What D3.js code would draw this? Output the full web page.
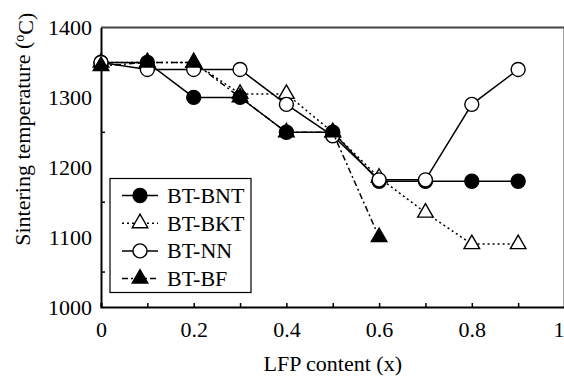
<!DOCTYPE html>
<html>
<head>
<meta charset="utf-8">
<script src="https://cdn.jsdelivr.net/npm/d3@7"></script>
<style>
  body { margin: 0; }
  svg text, svg tspan { font-family: "Liberation Serif", "Times New Roman", Times, serif !important; }
</style>
</head>
<body>
<script>
var xValues = [0, 0.1, 0.2, 0.3, 0.4, 0.5, 0.6, 0.7, 0.8, 0.9];
var bnt = [1350, 1350, 1300, 1300, 1250, 1250, 1180, 1180, 1180, 1180];
var bkt = [1350, 1350, 1350, 1305, 1305, 1250, 1185, 1135, 1090, 1090];
var nn  = [1350, 1340, 1340, 1340, 1290, 1245, 1182, 1182, 1290, 1340];
var bf  = [1345, 1350, 1350, 1300, 1250, 1250, 1100];
var yTicks = [1000, 1100, 1200, 1300, 1400];

var FONT = "Times New Roman";

var margin = {top: 27.5, right: 0, bottom: 71, left: 101},
	width = 564 - margin.left - margin.right,
	height = 378 - margin.top - margin.bottom;

var x = d3.scaleLinear().domain([0, 1]).range([0, 463.5]);
var y = d3.scaleLinear().domain([1000, 1400]).range([height, 0]);

var svg = d3.select("body").append("svg")
	.attr("width", 564)
	.attr("height", 378)
	.append("g")
	.attr("transform", "translate(" + margin.left + "," + margin.top + ")");

// frame top + right
svg.append("line").attr("x1", 0).attr("x2", x(1)).attr("y1", 0).attr("y2", 0)
	.attr("stroke", "#444").attr("stroke-width", 2);
svg.append("line").attr("x1", x(1)).attr("x2", x(1)).attr("y1", 0).attr("y2", height)
	.attr("stroke", "#444").attr("stroke-width", 2);

// AXIS
var xAxis = svg.append("g")
	.attr("transform", "translate(0," + height + ")")
	.call(d3.axisBottom(x).tickValues(d3.range(0, 1.01, 0.1)).tickSize(-4).tickPadding(10)
		.tickFormat(function(d) { var r = Math.round(d * 10); return r % 2 == 0 ? d3.format("")(r / 10) : ""; }))
	.attr("font-family", FONT)
	.attr("font-size", 22);
xAxis.select(".domain").attr("stroke-width", 2);
xAxis.selectAll(".tick line").attr("stroke-width", 1.5);
xAxis.selectAll("text").attr("dy", "0.9em");
// keep the last "1" inside the picture
xAxis.selectAll(".tick").filter(function(d) { return d > 0.99; }).select("text").attr("x", -6);

var yAxis = svg.append("g")
	.call(d3.axisLeft(y).tickValues(yTicks).tickSize(0).tickPadding(9).tickFormat(d3.format("d")))
	.attr("font-family", FONT)
	.attr("font-size", 22);
yAxis.select(".domain").attr("stroke-width", 2);

svg.selectAll(".ytick-minor")
	.data([1050, 1150, 1250, 1350])
	.enter().append("line")
	.attr("x1", 0).attr("x2", 4)
	.attr("y1", function(d) { return y(d); })
	.attr("y2", function(d) { return y(d); })
	.attr("stroke", "#000").attr("stroke-width", 1.5);

// SERIES
var series = [
	{name: "BT-BKT", vals: bkt, dash: "2,3", sym: "tri", fill: "#fff"},
	{name: "BT-BNT", vals: bnt, dash: null, sym: "circle", fill: "#000"},
	{name: "BT-NN", vals: nn, dash: null, sym: "circle", fill: "#fff"},
	{name: "BT-BF", vals: bf, dash: "6,3,2,3", sym: "tri", fill: "#000"}
];

var line = d3.line()
	.x(function(d) { return x(d[0]); })
	.y(function(d) { return y(d[1]); });

function marker(g, sym, fill) {
	if (sym == "circle") {
		g.append("circle").attr("r", 7).attr("fill", fill).attr("stroke", "#000").attr("stroke-width", 1.4);
	} else {
		g.append("path").attr("d", d3.symbol().type(d3.symbolTriangle).size(105)())
			.attr("fill", fill).attr("stroke", "#000").attr("stroke-width", 1.4);
	}
}

series.forEach(function(s) {
	var pts = s.vals.map(function(v, i) { return [xValues[i], v]; });
	svg.append("path")
		.attr("d", line(pts))
		.attr("fill", "none")
		.attr("stroke", "#000")
		.attr("stroke-width", 1.5)
		.attr("stroke-dasharray", s.dash);
	pts.forEach(function(p) {
		var g = svg.append("g").attr("transform", "translate(" + x(p[0]) + "," + y(p[1]) + ")");
		marker(g, s.sym, s.fill);
	});
});

// LEGEND
var legendOrder = [series[1], series[0], series[2], series[3]];
var lg = svg.append("g").attr("transform", "translate(9,151)");
lg.append("rect").attr("width", 141).attr("height", 114)
	.attr("fill", "#fff").attr("stroke", "#000").attr("stroke-width", 1.2);
legendOrder.forEach(function(s, i) {
	var cy = 17 + i * 27.7;
	lg.append("line").attr("x1", 12).attr("x2", 48).attr("y1", cy).attr("y2", cy)
		.attr("stroke", "#000").attr("stroke-width", 1.5).attr("stroke-dasharray", s.dash);
	var g = lg.append("g").attr("transform", "translate(30," + cy + ")");
	marker(g, s.sym, s.fill);
	lg.append("text").attr("x", 57).attr("y", cy + 7.5)
		.attr("font-family", FONT).attr("font-size", 22).text(s.name);
});

// AXIS LABELS
svg.append("text")
	.attr("x", x(0.5))
	.attr("y", height + 64)
	.attr("text-anchor", "middle")
	.attr("font-family", FONT)
	.attr("font-size", 22)
	.text("LFP content (x)");

var yl = svg.append("text")
	.attr("transform", "translate(-71," + (height / 2 - 38) + ") rotate(-90)")
	.attr("text-anchor", "middle")
	.attr("font-family", FONT)
	.attr("font-size", 22);
yl.append("tspan").text("Sintering temperature (");
yl.append("tspan").attr("dy", "-0.4em").attr("font-size", 14).text("o");
yl.append("tspan").attr("dy", "0.4em").text("C)");
</script>
</body>
</html>
